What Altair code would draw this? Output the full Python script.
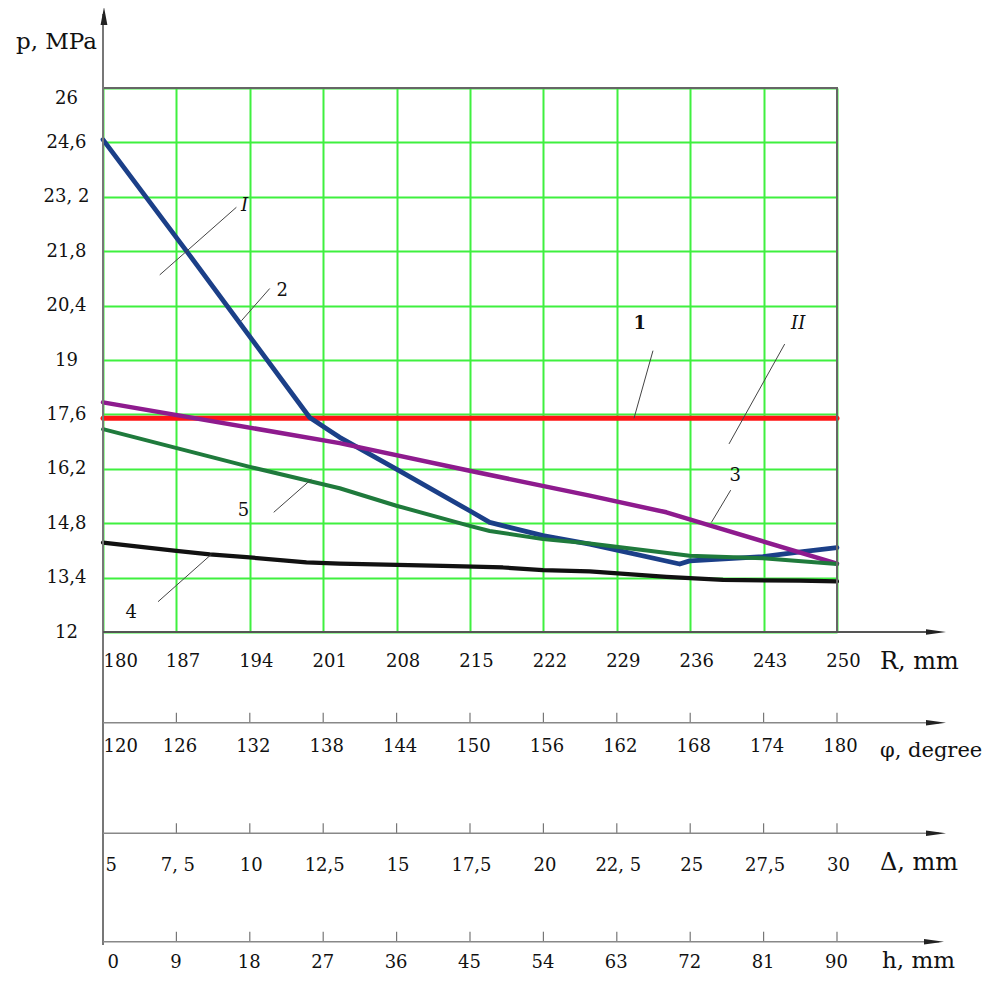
import altair as alt
import pandas as pd

# ---------------- axis ticks / labels ----------------
p_ticks = [12, 13.4, 14.8, 16.2, 17.6, 19, 20.4, 21.8, 23.2, 24.6, 26]
p_labels = ["12", "13,4", "14,8", "16,2", "17,6", "19", "20,4", "21,8", "23, 2", "24,6", "26"]

R_ticks = [180, 187, 194, 201, 208, 215, 222, 229, 236, 243, 250]
phi_ticks = [120, 126, 132, 138, 144, 150, 156, 162, 168, 174, 180]
delta_ticks = [5, 7.5, 10, 12.5, 15, 17.5, 20, 22.5, 25, 27.5, 30]
delta_labels = ["5", "7, 5", "10", "12,5", "15", "17,5", "20", "22, 5", "25", "27,5", "30"]
h_ticks = [0, 9, 18, 27, 36, 45, 54, 63, 72, 81, 90]

# ---------------- curves (R, mm -> p, MPa) ----------------
R1 = [180, 250]
p1 = [17.5, 17.5]

R2 = [180, 187.95, 199.71, 201.62, 202.57, 207.98, 214.97, 216.88,
      221.96, 226.42, 235.0, 235.95, 242.94, 246.13, 250]
p2 = [24.67, 21.81, 17.52, 17.18, 17.01, 16.19, 15.12, 14.82,
      14.48, 14.26, 13.75, 13.83, 13.94, 14.05, 14.17]

R3 = [180, 202.57, 214.97, 226.42, 233.73, 238.17, 250]
p3 = [17.91, 16.86, 16.15, 15.51, 15.08, 14.72, 13.76]

R4 = [180, 187.0, 190.18, 193.99, 199.4, 202.57, 212.42, 218.15, 221.96, 226.42,
      233.73, 239.13, 246.44, 250]
p4 = [14.30, 14.09, 14.00, 13.92, 13.79, 13.76, 13.70, 13.66, 13.59, 13.56,
      13.42, 13.34, 13.32, 13.30]

R5 = [180, 193.99, 202.57, 207.98, 214.97, 216.88, 221.96, 226.42, 235.95, 242.94, 250]
p5 = [17.22, 16.25, 15.70, 15.25, 14.73, 14.60, 14.39, 14.28, 13.96, 13.90, 13.75]

curve_names = ["1", "2", "3", "4", "5"]
curve_colors = ["#ff1414", "#1b3f88", "#8e1b8e", "#111111", "#1f7a3c"]

# ---------------- annotations ----------------
ann_italic_text = ["I", "II"]
ann_italic_R = [193.5, 246.3]
ann_italic_p = [22.97, 19.92]

ann_bold_text = ["1"]
ann_bold_R = [231.2]
ann_bold_p = [19.92]

ann_norm_text = ["2", "3", "5", "4"]
ann_norm_R = [197.1, 240.3, 193.4, 182.7]
ann_norm_p = [20.78, 16.02, 15.12, 12.50]

lead_R_a = [192.72, 195.9, 232.45, 245.01, 239.86, 196.28, 185.25]
lead_p_a = [22.93, 20.84, 19.24, 19.41, 15.65, 15.08, 12.78]
lead_R_b = [185.41, 193.2, 230.64, 239.7, 238.02, 199.87, 190.34]
lead_p_b = [21.19, 20.01, 17.5, 16.84, 14.82, 15.93, 14.0]

# ---------------- build tables ----------------
rows = []
for name, Rs, ps in zip(curve_names, [R1, R2, R3, R4, R5], [p1, p2, p3, p4, p5]):
    for r, p in zip(Rs, ps):
        rows.append({"curve": name, "R": r, "p": p})
curves_df = pd.DataFrame(rows)

W, H = 734, 544
FONT = "DejaVu Serif"
GRID = "#3ff03f"
TXT = "#111111"

R_scale = alt.Scale(domain=[180, 250], nice=False, zero=False)
p_scale = alt.Scale(domain=[12, 26], nice=False, zero=False)

def arr_js(vals):
    return "[" + ",".join(repr(v) if not isinstance(v, str) else "'" + v + "'" for v in vals) + "]"

y_axis = alt.Axis(
    values=p_ticks,
    labelExpr=f"{arr_js(p_labels)}[indexof({arr_js(p_ticks)}, datum.value)]",
    domain=False, ticks=False, tickSize=0,
    grid=True, gridColor=GRID, gridWidth=2,
    labelFont=FONT, labelFontSize=18, labelColor=TXT,
    labelAlign="center", labelBaseline="middle", labelPadding=37,
    labelOffset={"condition": {"test": "datum.value == 26", "value": 10}, "value": 0},
    labelOverlap=False, labelFlush=False, title=None,
)

def bottom_axis(values, first, padding, offset_other, offset_first, offset=0, grid=False, label_expr=None):
    kw = dict(
        values=values, orient="bottom", offset=offset,
        domain=False, ticks=False, tickSize=0,
        grid=grid, gridColor=GRID, gridWidth=2,
        labelFont=FONT, labelFontSize=18, labelColor=TXT,
        labelAlign={"condition": {"test": f"datum.value == {first}", "value": "left"}, "value": "center"},
        labelOffset={"condition": {"test": f"datum.value == {first}", "value": offset_first}, "value": offset_other},
        labelBaseline="middle", labelPadding=padding,
        labelFlush=False, labelOverlap=False, title=None,
    )
    if label_expr:
        kw["labelExpr"] = label_expr
    return alt.Axis(**kw)

one = pd.DataFrame({"a": [0]})

# main curves
lines = alt.Chart(curves_df).mark_line(strokeJoin="round", strokeCap="round").encode(
    x=alt.X("R:Q", scale=R_scale, axis=bottom_axis(R_ticks, 180, 29.7, 6, 0, grid=True)),
    y=alt.Y("p:Q", scale=p_scale, axis=y_axis),
    color=alt.Color("curve:N", scale=alt.Scale(domain=curve_names, range=curve_colors), legend=None),
    strokeWidth=alt.StrokeWidth("curve:N", scale=alt.Scale(domain=curve_names, range=[5, 4, 4, 4, 4]), legend=None),
    order="R:Q",
)

# frame
frame = alt.Chart(one).mark_rect(fill=None, stroke="#666666", strokeWidth=2).encode(
    x=alt.value(0), x2=alt.value(W), y=alt.value(0), y2=alt.value(H)
)

# annotations
def ann_layer(texts, Rs, ps, **style):
    df = pd.DataFrame({"t": texts, "R": Rs, "p": ps})
    return alt.Chart(df).mark_text(font=FONT, fontSize=18, color=TXT, **style).encode(
        x=alt.X("R:Q", scale=R_scale, axis=None),
        y=alt.Y("p:Q", scale=p_scale, axis=y_axis),
        text="t:N",
    )

ann_i = ann_layer(ann_italic_text, ann_italic_R, ann_italic_p, fontStyle="italic")
ann_b = ann_layer(ann_bold_text, ann_bold_R, ann_bold_p, fontWeight="bold")
ann_n = ann_layer(ann_norm_text, ann_norm_R, ann_norm_p)

lead_df = pd.DataFrame({"Ra": lead_R_a, "pa": lead_p_a, "Rb": lead_R_b, "pb": lead_p_b})
leaders = alt.Chart(lead_df).mark_rule(color="#444444", strokeWidth=1).encode(
    x=alt.X("Ra:Q", scale=R_scale, axis=None),
    y=alt.Y("pa:Q", scale=p_scale, axis=y_axis),
    x2="Rb:Q", y2="pb:Q",
)

# secondary axes
def sec_axis(field, ticks, domain, axis_y, padding, first, off_other, off_first, label_expr=None):
    df = pd.DataFrame({field: ticks})
    return alt.Chart(df).mark_rule(color="#777777", strokeWidth=1.2).encode(
        x=alt.X(f"{field}:Q", scale=alt.Scale(domain=domain, nice=False, zero=False),
                axis=bottom_axis(ticks, first, padding, off_other, off_first,
                                 offset=axis_y - H, label_expr=label_expr)),
        y=alt.value(axis_y - 10), y2=alt.value(axis_y),
    )

PHI_Y, DEL_Y, H_Y = 634.7, 745.3, 853.7
phi_layer = sec_axis("phi", phi_ticks, [120, 180], PHI_Y, 23.3, 120, 3, 0)
del_layer = sec_axis("delta", delta_ticks, [5, 30], DEL_Y, 31.7, 5, 1, 2,
                     label_expr=f"{arr_js(delta_labels)}[indexof({arr_js(delta_ticks)}, datum.value)]")
h_layer = sec_axis("h", h_ticks, [0, 90], H_Y, 20.5, 0, -1, 4)

# decorative axis lines and arrows
def hline(y, color, width):
    return alt.Chart(one).mark_rule(color=color, strokeWidth=width).encode(
        x=alt.value(0), x2=alt.value(836), y=alt.value(y))

def arrow(x, y, shape, size):
    return alt.Chart(one).mark_point(shape=shape, filled=True, size=size, color="#222222", opacity=1).encode(
        x=alt.value(x), y=alt.value(y))

RIGHT = "M-1,-0.28L1,0L-1,0.28Z"
UP = "M-0.38,1L0,-1L0.38,1Z"

vline = alt.Chart(one).mark_rule(color="#777777", strokeWidth=2).encode(
    x=alt.value(0), y=alt.value(-74), y2=alt.value(857))

deco = [
    vline,
    hline(H, "#555555", 2), hline(PHI_Y, "#888888", 1.5), hline(DEL_Y, "#888888", 1.5), hline(H_Y, "#888888", 1.5),
    arrow(833, H, RIGHT, 400), arrow(833, PHI_Y, RIGHT, 400), arrow(833, DEL_Y, RIGHT, 400), arrow(831, H_Y, RIGHT, 400),
    arrow(1, -72, UP, 324),
]

def title_text(txt, x, y, size, align="left"):
    return alt.Chart(one).mark_text(text=txt, font=FONT, fontSize=size, color=TXT, align=align, baseline="middle").encode(
        x=alt.value(x), y=alt.value(y))

titles = [
    title_text("p, MPa", -6, -46, 23, align="right"),
    title_text("R, mm", 777, 574, 24),
    title_text("φ, degree", 777, 663, 21),
    title_text("Δ, mm", 777, 775, 24),
    title_text("h, mm", 779, 873, 23),
]

chart = alt.layer(
    lines, frame, leaders, ann_i, ann_b, ann_n,
    phi_layer, del_layer, h_layer, *deco, *titles,
).resolve_scale(x="independent").properties(
    width=W, height=H,
    autosize=alt.AutoSizeParams(type="none"),
    padding={"left": 95, "top": 80, "right": 148, "bottom": 342},
).configure_view(stroke=None)

chart.save("out.html", embed_options={"renderer": "svg", "actions": False})
